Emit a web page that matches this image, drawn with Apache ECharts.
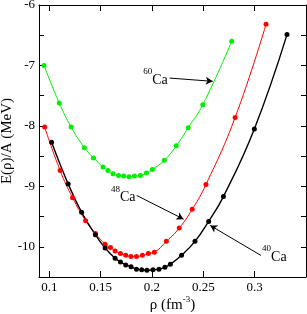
<!DOCTYPE html>
<html>
<head>
<meta charset="utf-8">
<script src="https://cdn.jsdelivr.net/npm/echarts@6/dist/echarts.min.js"></script>
<style>html,body{margin:0;padding:0;background:#fff}#c{width:307px;height:314px}</style>
</head>
<body>
<div id="c"></div>
<script>
// rho (fm^-3), E/A (MeV)
const ca60Rho = [0.0949,0.1097,0.1213,0.1342,0.1431,0.1524,0.1572,0.1621,0.1674,0.1725,0.1777,0.1829,0.1887,0.1946,0.2004,0.2120,0.2237,0.2353,0.2495,0.2777];
const ca60E   = [-7.00,-7.62,-8.02,-8.36,-8.53,-8.68,-8.74,-8.79,-8.82,-8.83,-8.84,-8.83,-8.82,-8.78,-8.72,-8.57,-8.33,-8.03,-7.65,-6.60];
const ca48Rho = [0.0955,0.1106,0.1227,0.1354,0.1449,0.1544,0.1596,0.1641,0.1693,0.1745,0.1796,0.1849,0.1907,0.1965,0.2023,0.2140,0.2266,0.2392,0.2526,0.2810,0.3111];
const ca48E   = [-8.02,-8.74,-9.19,-9.57,-9.78,-9.96,-10.01,-10.07,-10.11,-10.14,-10.16,-10.16,-10.14,-10.11,-10.09,-9.91,-9.69,-9.38,-8.97,-7.86,-6.32];
const ca40Rho = [0.1023,0.1184,0.1315,0.1449,0.1544,0.1641,0.1693,0.1745,0.1796,0.1849,0.1900,0.1951,0.2010,0.2068,0.2126,0.2179,0.2288,0.2419,0.2552,0.2696,0.2997,0.3315];
const ca40E   = [-8.27,-8.96,-9.43,-9.80,-10.02,-10.19,-10.25,-10.30,-10.33,-10.37,-10.38,-10.39,-10.38,-10.37,-10.34,-10.29,-10.14,-9.91,-9.58,-9.17,-8.05,-6.49];
const xTicks = [0.1,0.15,0.2,0.25,0.3];
const yTicks = [-10,-9,-8,-7,-6];
// annotations: [labelMass, labelX, labelY, arrowFromX, arrowFromY, arrowToX, arrowToY]
const notes = [
  ['60', 0.2154, -7.20, 0.2172, -7.209, 0.2592, -7.263],
  ['48', 0.1840, -9.14, 0.1851, -9.151, 0.2308, -9.543],
  ['40', 0.3072, -10.12, 0.3062, -10.144, 0.2567, -9.647]
];

const FONT = '"Liberation Serif", "DejaVu Serif", serif';
const zip = (a,b)=>a.map((v,i)=>[v,b[i]]);
const chart = echarts.init(document.getElementById('c'), null, {renderer:'canvas'});

function mkSeries(name, rho, e, color, w, extra){
  return Object.assign({
    name, type:'line', data: zip(rho,e), smooth:0.45,
    symbol:'circle', symbolSize:5, showSymbol:true,
    lineStyle:{color, width:w}, itemStyle:{color},
    animation:false, z:3
  }, extra||{});
}
const richStyles = {
  sup:{fontSize:9, fontFamily:FONT, color:'#000', verticalAlign:'top', lineHeight:20},
  ca:{fontSize:14, fontFamily:FONT, color:'#000', verticalAlign:'bottom', lineHeight:20}
};
const markPts = notes.map((n,i)=>({
  coord:[n[1], n[2]], symbol:'circle', symbolSize:0,
  label:{show:true, position:'inside', align: i===2?'left':'right', verticalAlign:'middle',
    formatter:'{sup|'+n[0]+'}{ca|Ca}', rich:richStyles}
}));
const markLines = notes.map(n=>[{coord:[n[3],n[4]]},{coord:[n[5],n[6]]}]);

const option = {
  animation:false,
  grid:{left:39, right:1, top:5, bottom:37, containLabel:false, outerBoundsMode:'none'},
  xAxis:[{
    type:'value', min:0.09, max:0.35,
    axisLine:{show:true, onZero:false, lineStyle:{color:'#000', width:1}},
    axisTick:{show:true, inside:true, length:6, customValues:xTicks, lineStyle:{color:'#000'}},
    axisLabel:{show:true, customValues:xTicks, margin:4, color:'#000', fontSize:13, fontFamily:FONT},
    splitLine:{show:false},
    name:'{n|ρ (fm}{s|-3}{n|)}', nameLocation:'middle', nameGap:18, nameMoveOverlap:false,
    nameTextStyle:{color:'#000', fontSize:15, fontFamily:FONT,
      rich:{
        n:{fontSize:15, fontFamily:FONT, color:'#000', verticalAlign:'bottom', lineHeight:18},
        s:{fontSize:9, fontFamily:FONT, color:'#000', verticalAlign:'top', lineHeight:18}
      }}
  },{
    type:'value', min:0.09, max:0.35, position:'top',
    axisLine:{show:true, onZero:false, lineStyle:{color:'#000'}},
    axisTick:{show:true, inside:true, length:6, customValues:xTicks, lineStyle:{color:'#000'}},
    axisLabel:{show:false}, splitLine:{show:false}
  }],
  yAxis:[{
    type:'value', min:-10.5, max:-6, interval:0.5,
    axisLine:{show:true, onZero:false, lineStyle:{color:'#000'}},
    axisTick:{show:true, inside:true, length:5, lineStyle:{color:'#000'}},
    axisLabel:{color:'#000', fontSize:13, fontFamily:FONT, margin:4,
      formatter:v=> yTicks.indexOf(v)>=0 ? String(v) : ''},
    splitLine:{show:false},
    name:'E(ρ)/A (MeV)', nameLocation:'middle', nameGap:24, nameRotate:90, nameMoveOverlap:false,
    nameTextStyle:{color:'#000', fontSize:15, fontFamily:FONT}
  },{
    type:'value', min:-10.5, max:-6, interval:0.5, position:'right',
    axisLine:{show:true, onZero:false, lineStyle:{color:'#000'}},
    axisTick:{show:true, inside:true, length:5, lineStyle:{color:'#000'}},
    axisLabel:{show:false}, splitLine:{show:false}
  }],
  series:[
    mkSeries('60Ca', ca60Rho, ca60E, '#00ee00', 1),
    mkSeries('48Ca', ca48Rho, ca48E, '#ff0000', 1),
    mkSeries('40Ca', ca40Rho, ca40E, '#000000', 1.4, {
      markPoint:{data:markPts, animation:false, silent:true},
      markLine:{data:markLines, symbol:['none','arrow'], symbolSize:[6,7], silent:true, animation:false,
        lineStyle:{color:'#000', width:1, type:'solid'}, label:{show:false}}
    })
  ]
};
chart.setOption(option);
</script>
</body>
</html>
